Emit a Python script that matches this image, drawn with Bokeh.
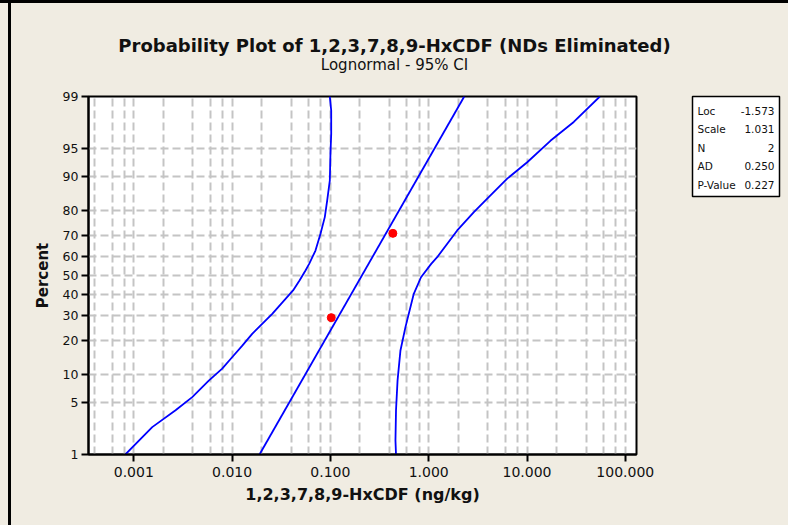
from statistics import NormalDist
from bokeh.plotting import figure
from bokeh.layouts import column, row
from bokeh.models import (Range1d, FixedTicker, CustomJSTickFormatter, Label, Spacer)
from bokeh.embed import file_html
from bokeh.resources import INLINE

# ---------------- data ----------------
y_tick_percents = [1, 5, 10, 20, 30, 40, 50, 60, 70, 80, 90, 95, 99]
y_tick_labels = ["1", "5", "10", "20", "30", "40", "50", "60", "70", "80", "90", "95", "99"]
x_tick_values = [0.001, 0.01, 0.1, 1, 10, 100]
x_grid_values = [0.0004, 0.0006, 0.0008,
                 0.001, 0.002, 0.004, 0.006, 0.008,
                 0.01, 0.02, 0.04, 0.06, 0.08,
                 0.1, 0.2, 0.4, 0.6, 0.8,
                 1, 2, 4, 6, 8,
                 10, 20, 40, 60, 80, 100]
x_limits = [0.000346, 130.0]
y_limits_percent = [1, 99]

fit_percent = [1, 99]
fit_x = [0.0190, 2.30]

lower_ci_percent = [99, 98.4, 96.7, 94.5, 89.1, 83.5, 77.6, 70.6, 62.7, 56.0, 52.6, 47.4,
                    42.3, 30.9, 22.4, 18.1, 14.4, 11.3, 8.6, 5.7, 4.0, 2.44, 1.0]
lower_ci_x = [0.0986, 0.1019, 0.1019, 0.1002, 0.0986, 0.0927, 0.0877, 0.0793, 0.0705, 0.0608,
              0.0558, 0.0485, 0.0417, 0.0256, 0.0160, 0.0127, 0.0100, 0.00793, 0.00579,
              0.00393, 0.00266, 0.00154, 0.00082]

upper_ci_percent = [99, 97.7, 96.0, 92.95, 89.6, 84.1, 79.5, 72.1, 59.4, 56.0, 49.1, 40.6,
                    25.1, 16.5, 8.6, 4.0, 1.6, 1.0]
upper_ci_x = [55.1, 29.9, 17.3, 10.05, 6.29, 3.94, 2.88, 1.95, 1.22, 1.06, 0.835, 0.705,
              0.580, 0.516, 0.482, 0.465, 0.459, 0.465]

point_percent = [29.2, 70.8]
point_x = [0.102, 0.432]

stat_names = ["Loc", "Scale", "N", "AD", "P-Value"]
stat_values = ["-1.573", "1.031", "2", "0.250", "0.227"]

title_text = "Probability Plot of 1,2,3,7,8,9-HxCDF (NDs Eliminated)"
subtitle_text = "Lognormal - 95% CI"
x_label = "1,2,3,7,8,9-HxCDF (ng/kg)"
y_label = "Percent"

# ---------------- probability (normal-score) scale ----------------
nd = NormalDist()
def z(pcts):
    return [nd.inv_cdf(q / 100.0) for q in pcts]

FONT = "DejaVu Sans"
BG = "#F0ECE2"
TXT = "#111111"

# ---------------- header with the titles ----------------
header = figure(width=777, height=78, output_backend="svg", toolbar_location=None,
                x_axis_location=None, y_axis_location=None,
                x_range=Range1d(0, 1), y_range=Range1d(0, 1),
                min_border=0, min_border_left=0, min_border_right=0,
                min_border_top=0, min_border_bottom=0)
header.background_fill_color = BG
header.border_fill_color = BG
header.outline_line_color = None
header.grid.visible = False
header.add_layout(Label(x=383, y=36, x_units="screen", y_units="screen", text=title_text,
                        text_font=FONT, text_font_size="18px", text_font_style="bold",
                        text_color=TXT, text_align="center", text_baseline="middle"))
header.add_layout(Label(x=383, y=17, x_units="screen", y_units="screen", text=subtitle_text,
                        text_font=FONT, text_font_size="15px", text_color=TXT,
                        text_align="center", text_baseline="middle"))

# ---------------- main probability plot ----------------
p = figure(width=649, height=444, output_backend="svg", toolbar_location=None,
           x_axis_type="log",
           x_range=Range1d(x_limits[0], x_limits[1]),
           y_range=Range1d(*z(y_limits_percent)),
           min_border_left=77, min_border_right=24, min_border_top=15, min_border_bottom=71)
p.border_fill_color = BG
p.background_fill_color = "white"
p.outline_line_color = "black"
p.outline_line_width = 2

p.xaxis.ticker = FixedTicker(ticks=x_tick_values)
p.xaxis.formatter = CustomJSTickFormatter(code="return tick.toFixed(3);")
p.yaxis.ticker = FixedTicker(ticks=z(y_tick_percents))
p.yaxis.formatter = CustomJSTickFormatter(args=dict(zs=z(y_tick_percents), labs=y_tick_labels),
    code="""
    for (let i = 0; i < zs.length; i++) { if (Math.abs(zs[i] - tick) < 1e-6) return labs[i]; }
    return "";
    """)
for ax in (p.xaxis, p.yaxis):
    ax.axis_line_color = "black"
    ax.axis_line_width = 2
    ax.major_tick_line_color = "black"
    ax.major_tick_line_width = 2
    ax.major_tick_out = 7
    ax.major_tick_in = 0
    ax.minor_tick_line_color = None
    ax.major_label_text_font = FONT
    ax.major_label_text_color = TXT
    ax.axis_label_text_font = FONT
    ax.axis_label_text_font_style = "bold"
    ax.axis_label_text_color = TXT
p.xaxis.major_label_text_font_size = "14px"
p.yaxis.major_label_text_font_size = "12.5px"
p.xaxis.axis_label_text_font_size = "16px"
p.yaxis.axis_label_text_font_size = "15px"
p.xaxis.axis_label = x_label
p.yaxis.axis_label = y_label
p.xaxis.major_label_standoff = 5
p.yaxis.major_label_standoff = 3
p.xaxis.axis_label_standoff = 5
p.yaxis.axis_label_standoff = 8

p.xgrid.ticker = FixedTicker(ticks=x_grid_values)
for g in (p.xgrid, p.ygrid):
    g.grid_line_color = "#C4C4C4"
    g.grid_line_width = 2
    g.grid_line_dash = "8 4"

p.line(x=fit_x, y=z(fit_percent), line_color="#0000FF", line_width=1.8)
p.line(x=lower_ci_x, y=z(lower_ci_percent), line_color="#0000FF", line_width=1.8)
p.line(x=upper_ci_x, y=z(upper_ci_percent), line_color="#0000FF", line_width=1.8)
p.scatter(x=point_x, y=z(point_percent), size=8, fill_color="#FF0000", line_color="#FF0000")

# ---------------- statistics table ----------------
q = figure(width=128, height=118, output_backend="svg", toolbar_location=None,
           x_axis_location=None, y_axis_location=None,
           x_range=Range1d(0, 1), y_range=Range1d(0, 1),
           min_border_left=32, min_border_right=9, min_border_top=15, min_border_bottom=3)
q.border_fill_color = BG
q.background_fill_color = "white"
q.outline_line_color = "black"
q.outline_line_width = 1.5
q.grid.visible = False
row_h = 18.5
for i, (nm, vl) in enumerate(zip(stat_names, stat_values)):
    yy = 100 - 14 - i * row_h
    q.add_layout(Label(x=5, y=yy, x_units="screen", y_units="screen", text=nm,
                       text_font=FONT, text_font_size="10.5px", text_color=TXT,
                       text_baseline="middle", text_align="left"))
    q.add_layout(Label(x=82, y=yy, x_units="screen", y_units="screen", text=vl,
                       text_font=FONT, text_font_size="10.5px", text_color=TXT,
                       text_baseline="middle", text_align="right"))
q_fill = Spacer(width=128, height=326, styles={"background-color": BG})

# ---------------- page frame (thick black edges) ----------------
top_bar = Spacer(width=788, height=3, styles={"background-color": "black"})
left_pad = Spacer(width=8, height=522, styles={"background-color": BG})
left_bar = Spacer(width=3, height=522, styles={"background-color": "black"})
body = column(header, row(p, column(q, q_fill, spacing=0, styles={"background-color": BG}),
                          spacing=0, styles={"background-color": BG}),
              spacing=0, styles={"background-color": BG})
root = column(top_bar, row(left_pad, left_bar, body, spacing=0, styles={"background-color": BG}),
              spacing=0, styles={"background-color": BG})

open("out.html", "w").write(file_html(root, INLINE))
